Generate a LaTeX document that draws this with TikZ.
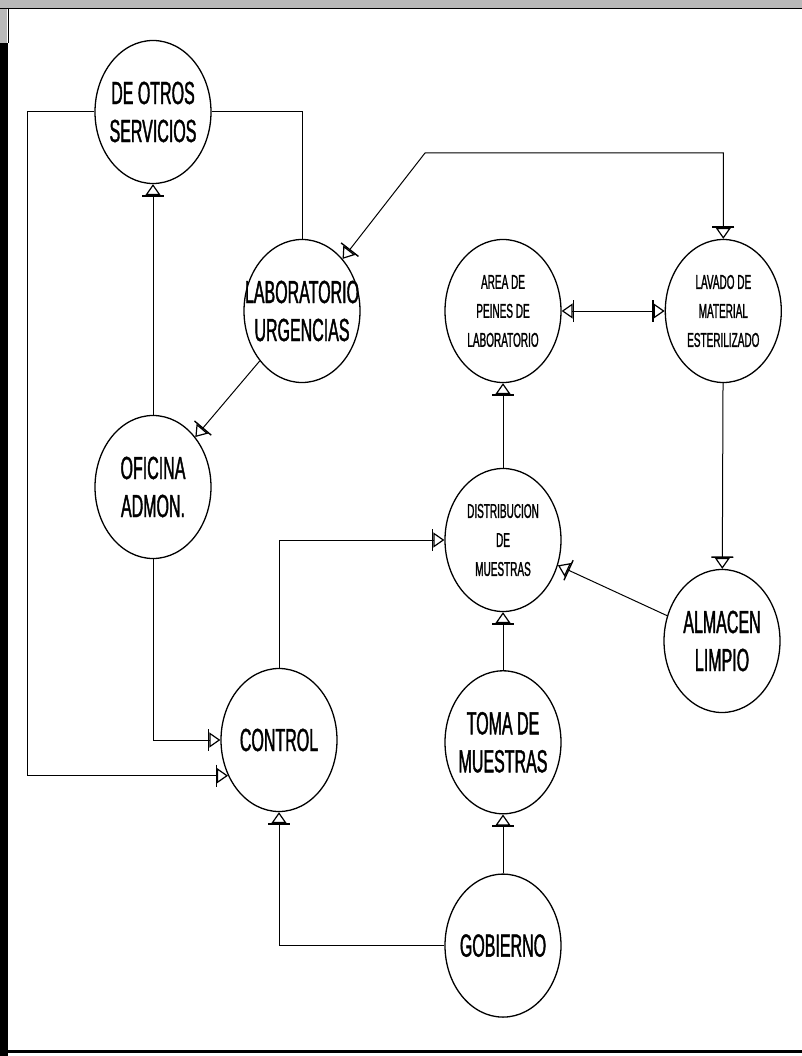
\documentclass[tikz,border=0pt]{standalone}
\usepackage{fontspec}
\usetikzlibrary{shapes.geometric, arrows.meta, positioning}
\newfontfamily\rotulo[FakeStretch=0.5, FakeBold=1.2]{Liberation Sans}

\begin{document}
\begin{tikzpicture}[x=1pt, y=-1pt, line width=1pt,
        st/.style={ellipse, draw, line width=1.3pt, minimum width=116pt, minimum height=143pt,
            inner sep=-18pt, align=center, font=\rotulo\fontsize{32}{38}\selectfont},
        stc/.style={st, font=\rotulo\fontsize{20}{29}\selectfont},
        tr/.style={-{Bar[width=22pt,line width=1.4pt,sep=0pt]Triangle[open,length=11pt,width=15pt,line width=1.2pt,sep=0pt]}},
        trb/.style={{Triangle[open,length=11pt,width=15pt,line width=1.2pt,sep=0pt]Bar[width=22pt,line width=1.4pt,sep=0pt]}-{Bar[width=22pt,line width=1.4pt,sep=0pt]Triangle[open,length=11pt,width=15pt,line width=1.2pt,sep=0pt]}}]
        \useasboundingbox (0,0) rectangle (802,1056);
        % marco
        \fill[gray!55] (0,0) rectangle (802,8);
        \fill[gray!55] (0,0) rectangle (7,43);
        \fill (0,43) rectangle (8,1056);
        \draw[line width=1.5pt] (0,8.5) -- (802,8.5);
        \draw (8.5,8) -- (8.5,43);
        \fill (0,1049.5) rectangle (802,1053);
        % areas
        \node[st] (ots) at (153,112) {DE OTROS\\SERVICIOS};
        \node[st] (lab) at (302,311) {LABORATORIO\\URGENCIAS};
        \node[st] (ofi) at (153,487) {OFICINA\\ADMON.};
        \node[stc] (pei) at (503,311) {AREA DE\\PEINES DE\\LABORATORIO};
        \node[stc, right=103pt of pei] (lav) {LAVADO DE\\MATERIAL\\ESTERILIZADO};
        \node[stc] (dis) at (503,540) {DISTRIBUCION\\DE\\MUESTRAS};
        \node[st] (alm) at (722,641) {ALMACEN\\LIMPIO};
        \node[st] (ctl) at (279,740) {CONTROL};
        \node[st, below=58pt of dis] (tom) {TOMA DE\\MUESTRAS};
        \node[st, below=59pt of tom] (gob) {GOBIERNO};
        \coordinate (izq) at (27,0);
        \coordinate (sup) at (425,153);
        % flujos
        \draw[tr] (ots.west) -| (izq |- ctl.215) -- (ctl.215);
        \draw (ots.east) -| (lab.north);
        \draw[tr] (ofi) -- (ots);
        \draw[tr] (lab) -- (ofi);
        \draw[trb] (lab) -- (sup) -| (lav.north);
        \draw[trb] (pei) -- (lav);
        \draw[tr] (dis) -- (pei);
        \draw[tr] (lav) -- (alm);
        \draw[tr] (alm) -- (dis);
        \draw[tr] (ctl.north) |- (dis.west);
        \draw[tr] (ofi.south) |- (ctl.west);
        \draw[tr] (tom) -- (dis);
        \draw[tr] (gob) -- (tom);
        \draw[tr] (gob.west) -| (ctl.south);
    \end{tikzpicture}
\end{document}
